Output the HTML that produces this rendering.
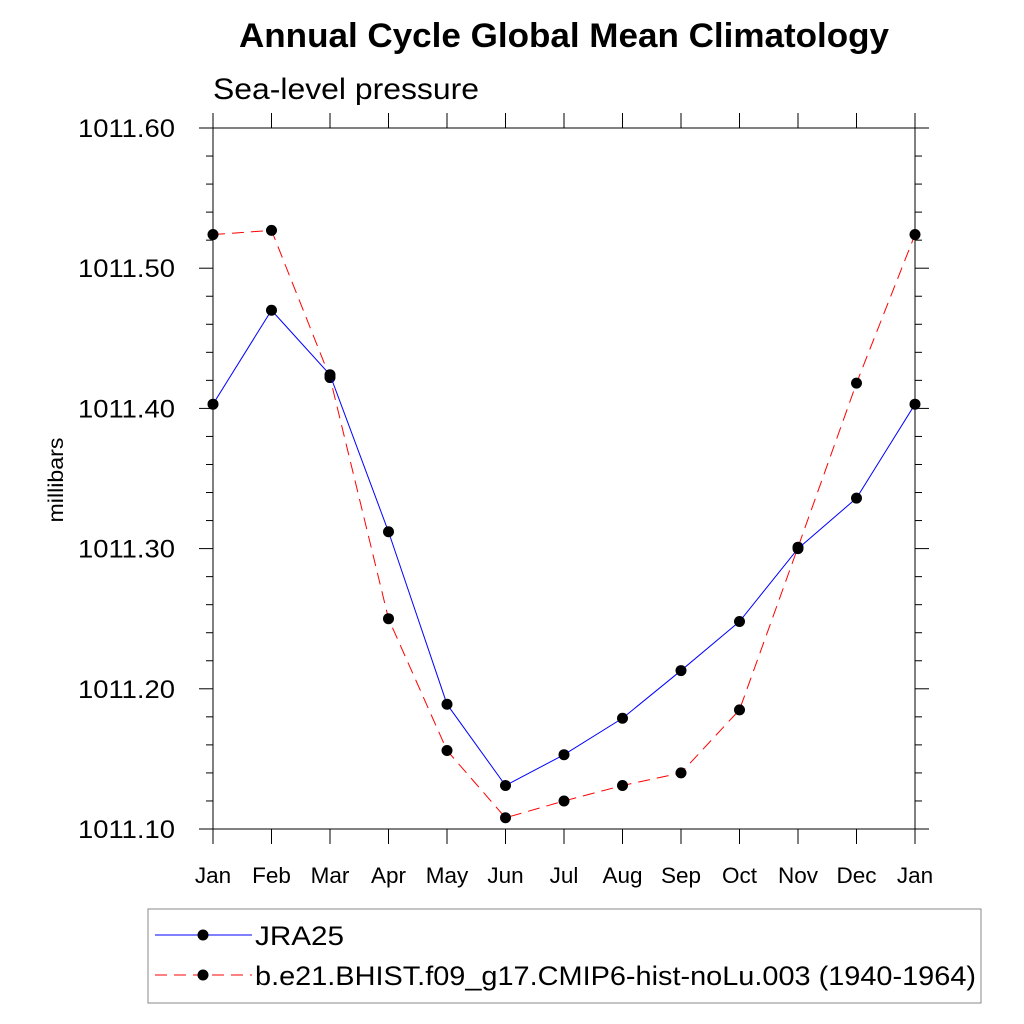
<!DOCTYPE html>
<html><head><meta charset="utf-8"><style>
body{margin:0;background:#fff;}
svg{display:block;font-family:"Liberation Sans",sans-serif;}
</style></head><body>
<svg id="chart" width="1024" height="1024" viewBox="0 0 1024 1024">
<text x="239" y="47" font-size="34" font-weight="bold" textLength="650" lengthAdjust="spacingAndGlyphs">Annual Cycle Global Mean Climatology</text>
<text x="213" y="99" font-size="30" textLength="266" lengthAdjust="spacingAndGlyphs">Sea-level pressure</text>
<text transform="translate(63,480) rotate(-90)" text-anchor="middle" font-size="21" textLength="85" lengthAdjust="spacingAndGlyphs">millibars</text>
<g id="axes"></g>
<g id="series"></g>
<rect x="148" y="909" width="833" height="94" fill="none" stroke="#888" stroke-width="1"/>
<g>
<line x1="155" y1="935" x2="252" y2="935" stroke="#0000ff" stroke-width="1"/>
<circle cx="203" cy="935" r="5.5" fill="#000"/>
<text x="255" y="945" font-size="27" textLength="89" lengthAdjust="spacingAndGlyphs">JRA25</text>
</g>
<g>
<line x1="155" y1="975" x2="252" y2="975" stroke="#ff0000" stroke-width="1" stroke-dasharray="12,7"/>
<circle cx="203" cy="975" r="5.5" fill="#000"/>
<text x="255" y="985" font-size="27" textLength="721" lengthAdjust="spacingAndGlyphs">b.e21.BHIST.f09_g17.CMIP6-hist-noLu.003 (1940-1964)</text>
</g>
</svg>
<script>
const months=["Jan","Feb","Mar","Apr","May","Jun","Jul","Aug","Sep","Oct","Nov","Dec","Jan"];
const jra25=[1011.403,1011.470,1011.424,1011.312,1011.189,1011.131,1011.153,1011.179,1011.213,1011.248,1011.300,1011.336,1011.403];
const model=[1011.524,1011.527,1011.422,1011.250,1011.156,1011.108,1011.120,1011.131,1011.140,1011.185,1011.301,1011.418,1011.524];
const yTicks=["1011.10","1011.20","1011.30","1011.40","1011.50","1011.60"];
const X0=213,X1=915,Y0=829,Y1=128,YMIN=1011.10,YMAX=1011.60;
const NS="http://www.w3.org/2000/svg";
function xs(i){return X0+(X1-X0)*i/(months.length-1);}
function ys(v){return Y0-(v-YMIN)/(YMAX-YMIN)*(Y0-Y1);}
function mk(tag,attrs,parent){const e=document.createElementNS(NS,tag);for(const k in attrs)e.setAttribute(k,attrs[k]);parent.appendChild(e);return e;}
const ax=document.getElementById('axes');
const frame=mk('rect',{x:X0,y:Y1,width:X1-X0,height:Y0-Y1,fill:'none',stroke:'#000','stroke-width':1},ax);


months.forEach((m,i)=>{
  const x=xs(i);
  mk('line',{x1:x,y1:Y0,x2:x,y2:Y0+15,stroke:'#000'},ax);
  mk('line',{x1:x,y1:Y1,x2:x,y2:Y1-15,stroke:'#000'},ax);
  const t=mk('text',{x:x,y:883,'text-anchor':'middle','font-size':22.5},ax);
  t.textContent=m;
  
  
});
for(let k=0;k<=25;k++){
  const v=YMIN+k*0.02;const y=ys(v);const major=k%5===0;const L=major?14:7;
  mk('line',{x1:X0,y1:y,x2:X0-L,y2:y,stroke:'#000'},ax);
  mk('line',{x1:X1,y1:y,x2:X1+L,y2:y,stroke:'#000'},ax);
}
yTicks.forEach(s=>{
  const y=ys(parseFloat(s));
  const t=mk('text',{x:78,y:y+9,'font-size':25,textLength:97,lengthAdjust:'spacingAndGlyphs'},ax);
  t.textContent=s;
  
  
});
const sg=document.getElementById('series');
function draw(arr,color,dash,name){
  const g=mk('g',{},sg);
  
  
  const pts=arr.map((v,i)=>xs(i)+','+ys(v)).join(' ');
  const attrs={points:pts,fill:'none',stroke:color,'stroke-width':1};
  if(dash)attrs['stroke-dasharray']=dash;
  mk('polyline',attrs,g);
  arr.forEach((v,i)=>{
    const c=mk('circle',{cx:xs(i),cy:ys(v),r:5.5,fill:'#000'},g);
    
    
  });
}
draw(model,'#ff0000','12,7','model-series');
draw(jra25,'#0000ff',null,'jra25-series');
</script>
</body></html>
